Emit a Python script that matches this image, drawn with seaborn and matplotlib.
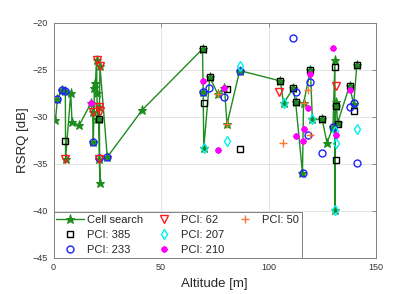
import seaborn as sns
import matplotlib.pyplot as plt
from matplotlib.lines import Line2D

sns.set_theme(style="white")
plt.rcParams['font.family'] = ['Liberation Sans', 'DejaVu Sans']

# Cell search (connected line, in flight order)
cs_alt = [0.9, 1.8, 3.9, 5.5, 5.6, 8.0, 8.6, 12.0, 17.3, 18.2,
          18.5, 19.0, 19.5, 20.0, 20.2, 20.4, 21.0, 21.3, 21.6, 21.3,
          21.6, 25.0, 41.2, 69.3, 69.6, 69.9, 72.7, 76.4, 79.5, 80.7,
          86.6, 105.5, 107.0, 111.4, 112.6, 115.8, 116.3, 119.5, 120.4, 125.0,
          127.2, 130.0, 130.9, 130.9, 131.2, 131.6, 132.1, 137.7, 139.6, 141.1]
cs_rsrq = [-30.4, -28.1, -27.2, -27.3, -34.5, -27.5, -30.6, -30.9, -28.6, -29.5,
           -32.7, -27.0, -26.4, -24.0, -27.5, -30.3, -29.0, -34.5, -37.1, -30.2,
           -24.6, -34.3, -29.3, -22.8, -27.4, -33.3, -25.8, -27.6, -26.9, -30.8,
           -25.1, -26.2, -28.6, -27.0, -28.4, -36.0, -28.6, -25.0, -30.3, -30.3,
           -32.8, -31.1, -24.0, -39.9, -28.9, -28.4, -30.7, -26.7, -28.7, -24.5]

pci385_alt = [5.5, 21.0, 69.4, 70.0, 72.8, 80.5, 86.7, 105.5, 111.4, 112.6,
              119.5, 125.0, 130.9, 131.2, 132.5, 131.2, 137.7, 139.9, 141.1]
pci385_rsrq = [-32.6, -30.2, -22.8, -28.6, -25.8, -27.1, -33.4, -26.2, -27.0, -28.4,
               -25.0, -30.3, -24.7, -28.9, -30.8, -34.6, -26.7, -29.4, -24.5]

pci233_alt = [1.8, 3.9, 5.5, 18.5, 21.3, 25.0, 69.6, 72.4, 79.5, 86.6,
              111.4, 113.0, 119.5, 116.0, 118.2, 125.0, 130.0, 138.0, 139.9, 141.1]
pci233_rsrq = [-28.1, -27.2, -27.3, -32.7, -34.4, -34.3, -27.4, -27.0, -27.9, -25.1,
               -21.6, -27.4, -26.3, -36.0, -32.0, -33.9, -31.1, -29.0, -28.6, -34.9]

pci62_alt = [5.5, 20.1, 21.6, 18.2, 21.0, 21.6, 21.3, 104.9, 131.2]
pci62_rsrq = [-34.5, -24.0, -24.6, -29.5, -29.0, -29.4, -34.5, -27.4, -26.7]

pci207_alt = [69.9, 80.7, 86.6, 107.0, 120.4, 130.9, 131.2, 130.9, 141.1]
pci207_rsrq = [-33.3, -32.6, -24.6, -28.6, -30.3, -31.5, -32.8, -39.9, -31.3]

pci210_alt = [17.3, 69.3, 79.5, 76.4, 130.0, 119.5, 118.5, 116.7, 112.6, 116.0, 138.0, 131.2]
pci210_rsrq = [-28.6, -26.2, -26.9, -33.5, -22.7, -25.5, -29.1, -31.3, -32.1, -32.6, -27.2, -32.0]

pci50_alt = [76.4, 80.7, 118.2, 116.3, 106.7, 119.5]
pci50_rsrq = [-27.6, -30.8, -27.2, -28.6, -32.8, -31.9]

green = '#1e8c1e'

fig, ax = plt.subplots(figsize=(4.15, 2.94), dpi=100)
fig.subplots_adjust(left=0.129, right=0.906, top=0.923, bottom=0.1235)

sns.lineplot(x=cs_alt, y=cs_rsrq, sort=False, estimator=None, color=green,
             lw=1.0, marker='*', ms=6.5, mfc=green, mec=green, label='Cell search', ax=ax)

series = [
    (pci385_alt, pci385_rsrq, 's', 'black', 4.0, 1.0, 'PCI: 385'),
    (pci233_alt, pci233_rsrq, 'o', '#1f1fff', 5.0, 1.0, 'PCI: 233'),
    (pci62_alt, pci62_rsrq, 'v', '#ff1a1a', 5.5, 1.0, 'PCI: 62'),
    (pci207_alt, pci207_rsrq, 'd', '#00f0f0', 5.5, 1.0, 'PCI: 207'),
    (pci210_alt, pci210_rsrq, (8, 2, 0), '#ff00ff', 4.3, 1.4, 'PCI: 210'),
    (pci50_alt, pci50_rsrq, '+', '#f57a35', 6.0, 1.0, 'PCI: 50'),
]
for xs, ys, m, c, s, w, lab in series:
    sns.lineplot(x=xs, y=ys, sort=False, estimator=None, linestyle='', marker=m,
                 ms=s, mfc='none', mec=c, mew=w, color=c, label=lab, ax=ax)

ax.set_xlim(0, 150)
ax.set_ylim(-45, -20)
ax.set_xticks([0, 50, 100, 150])
ax.set_yticks([-45, -40, -35, -30, -25, -20])
ax.grid(True, color='#e3e3e3', lw=0.7)
ax.set_axisbelow(True)
for sp in ax.spines.values():
    sp.set_color('#808080')
    sp.set_linewidth(0.7)
ax.tick_params(direction='in', top=True, right=True, length=3, width=0.6,
               colors='#808080', labelcolor='#333333', labelsize=6.5, pad=4)
ax.set_xlabel('Altitude [m]', fontsize=9.5, color='#262626', labelpad=4)
ax.set_ylabel('RSRQ [dB]', fontsize=9.5, color='#262626', labelpad=3)

# fill columns 3-3-1 like the original legend
handles, labels = ax.get_legend_handles_labels()
blank = Line2D([], [], linestyle='', marker='')
handles = handles + [blank, blank]
labels = labels + ['', '']
leg = ax.legend(handles, labels, loc='lower left', bbox_to_anchor=(0, 0),
                borderaxespad=0, ncol=3, fontsize=8, frameon=True, fancybox=False,
                framealpha=1, edgecolor='#808080', handlelength=2.5,
                handletextpad=0.3, columnspacing=0.6, labelspacing=0.45,
                borderpad=0.25)
leg.get_frame().set_linewidth(0.7)

fig.savefig('out.png', dpi=100)
